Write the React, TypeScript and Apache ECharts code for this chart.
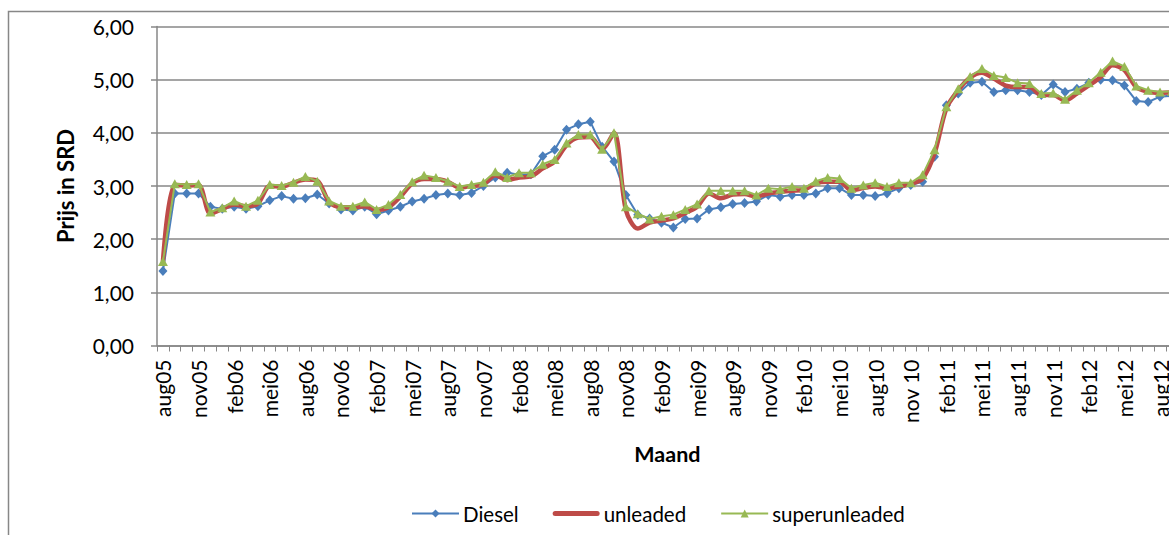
import React, { useEffect, useRef } from "react";
import * as echarts from "echarts";

const categories = [
  "aug05","sep05","okt05","nov05","dec05","jan06","feb06","mrt06","apr06","mei06","jun06","jul06",
  "aug06","sep06","okt06","nov06","dec06","jan07","feb07","mrt07","apr07","mei07","jun07","jul07",
  "aug07","sep07","okt07","nov07","dec07","jan08","feb08","mrt08","apr08","mei08","jun08","jul08",
  "aug08","sep08","okt08","nov08","dec08","jan09","feb09","mrt09","apr09","mei09","jun09","jul09",
  "aug09","sep09","okt09","nov09","dec09","jan10","feb10","mrt10","apr10","mei10","jun10","jul10",
  "aug10","sep10","okt10","nov 10","dec10","jan11","feb11","mrt11","apr11","mei11","jun11","jul11",
  "aug11","sep11","okt11","nov11","dec11","jan12","feb12","mrt12","apr12","mei12","jun12","jul12",
  "aug12","sep12",
];

const diesel = [
  1.40, 2.86, 2.86, 2.86, 2.61, 2.57, 2.61, 2.57, 2.62, 2.73, 2.81, 2.76,
  2.77, 2.84, 2.67, 2.56, 2.54, 2.61, 2.47, 2.54, 2.61, 2.71, 2.76, 2.83,
  2.86, 2.83, 2.87, 3.00, 3.16, 3.25, 3.21, 3.22, 3.56, 3.68, 4.06, 4.16,
  4.21, 3.74, 3.46, 2.83, 2.46, 2.39, 2.31, 2.22, 2.38, 2.39, 2.56, 2.60,
  2.66, 2.68, 2.71, 2.83, 2.80, 2.83, 2.83, 2.86, 2.96, 2.96, 2.83, 2.83,
  2.81, 2.86, 2.96, 3.02, 3.08, 3.55, 4.52, 4.74, 4.94, 4.96, 4.77, 4.80,
  4.80, 4.77, 4.71, 4.91, 4.77, 4.83, 4.94, 5.00, 4.99, 4.89, 4.60, 4.58,
  4.68, 4.70,
];

const unleaded = [
  1.58, 3.02, 3.01, 3.02, 2.48, 2.57, 2.65, 2.62, 2.67, 3.00, 2.99, 3.06,
  3.12, 3.10, 2.70, 2.60, 2.60, 2.62, 2.55, 2.60, 2.80, 3.05, 3.13, 3.13,
  3.08, 2.97, 3.00, 3.03, 3.20, 3.11, 3.16, 3.18, 3.33, 3.46, 3.77, 3.91,
  3.92, 3.69, 4.00, 2.55, 2.20, 2.31, 2.35, 2.39, 2.49, 2.61, 2.86, 2.77,
  2.84, 2.85, 2.80, 2.86, 2.89, 2.91, 2.93, 3.05, 3.08, 3.08, 2.92, 2.96,
  2.99, 2.96, 2.99, 3.04, 3.14, 3.61, 4.46, 4.80, 5.04, 5.13, 5.02, 4.89,
  4.86, 4.86, 4.71, 4.71, 4.61, 4.74, 4.89, 5.05, 5.27, 5.18, 4.86, 4.77,
  4.75, 4.76,
];

const superunleaded = [
  1.58, 3.04, 3.03, 3.04, 2.51, 2.59, 2.72, 2.62, 2.73, 3.03, 3.01, 3.07,
  3.18, 3.09, 2.72, 2.62, 2.62, 2.70, 2.56, 2.65, 2.84, 3.08, 3.20, 3.16,
  3.09, 2.99, 3.03, 3.07, 3.27, 3.16, 3.25, 3.25, 3.41, 3.50, 3.81, 3.97,
  3.97, 3.69, 4.00, 2.61, 2.48, 2.38, 2.43, 2.46, 2.56, 2.66, 2.91, 2.91,
  2.91, 2.91, 2.83, 2.96, 2.94, 2.99, 2.96, 3.09, 3.16, 3.14, 2.96, 3.02,
  3.06, 2.99, 3.06, 3.06, 3.21, 3.68, 4.49, 4.83, 5.06, 5.21, 5.08, 5.04,
  4.94, 4.93, 4.74, 4.75, 4.63, 4.80, 4.94, 5.14, 5.35, 5.25, 4.88, 4.80,
  4.77, 4.78,
];

const seriesNames = ["Diesel", "unleaded", "superunleaded"];
const yTicks = { min: 0, max: 6, interval: 1 };

const FONT = "Lato, 'Open Sans', sans-serif";
const GRAY = "#878787";
const BLUE = "#4A7EBB";
const RED = "#BE4B48";
const GREEN = "#98B954";

export default function App() {
  const ref = useRef<HTMLDivElement>(null);
  useEffect(() => {
    if (!ref.current) return;
    const chart = echarts.init(ref.current, undefined, { renderer: "svg" });
    const catW = 11.87;
    chart.setOption({
      animation: false,
      backgroundColor: "#fff",
      textStyle: { fontFamily: FONT },
      graphic: [
        {
          type: "rect",
          shape: { x: 8.5, y: 11.5, width: 2000, height: 1000 },
          style: { fill: "none", stroke: GRAY, lineWidth: 1.5 },
          silent: true,
        },
      ],
      grid: {
        left: 157,
        top: 26.5,
        width: catW * categories.length,
        height: 319,
        containLabel: false,
      },
      legend: {
        data: [
          { name: seriesNames[0] },
          { name: seriesNames[1], icon: "path://M2,0 L44,0 A2.5,2.5 0 0 1 44,5 L2,5 A2.5,2.5 0 0 1 2,0 Z" },
          { name: seriesNames[2] },
        ],
        left: 406,
        top: 498,
        itemWidth: 47,
        itemHeight: 10,
        itemGap: 34,
        textStyle: { fontSize: 20.5, color: "#000", fontFamily: FONT, padding: [0, 0, 0, -1] },
      },
      xAxis: {
        type: "category",
        data: categories,
        boundaryGap: true,
        axisLine: { lineStyle: { color: GRAY, width: 1.5 } },
        axisTick: { show: true, interval: 0, length: 6, lineStyle: { color: GRAY, width: 1 } },
        axisLabel: {
          interval: 2,
          rotate: 90,
          fontSize: 21,
          color: "#000",
          margin: 14,
          fontFamily: FONT,
        },
        name: "Maand",
        nameLocation: "middle",
        nameGap: 97,
        nameTextStyle: { fontSize: 21.5, fontWeight: "bold", color: "#000", fontFamily: FONT },
        splitLine: { show: false },
      },
      yAxis: {
        type: "value",
        min: yTicks.min,
        max: yTicks.max,
        interval: yTicks.interval,
        axisLine: { show: true, lineStyle: { color: GRAY, width: 1.5 } },
        axisTick: { show: true, length: 6, lineStyle: { color: GRAY, width: 1.5 } },
        axisLabel: {
          fontSize: 21,
          color: "#000",
          margin: 23,
          fontFamily: FONT,
          formatter: (v: number) => v.toFixed(2).replace(".", ","),
        },
        splitLine: { lineStyle: { color: GRAY, width: 1.5 } },
        name: "Prijs in SRD",
        nameLocation: "middle",
        nameGap: 81,
        nameRotate: 90,
        nameTextStyle: { fontSize: 22, fontWeight: "bold", color: "#000", fontFamily: FONT },
      },
      series: [
        {
          name: seriesNames[0],
          type: "line",
          data: diesel,
          symbol: "diamond",
          symbolSize: [9, 10],
          showAllSymbol: true,
          lineStyle: { color: BLUE, width: 2 },
          itemStyle: { color: BLUE },
          z: 2,
        },
        {
          name: seriesNames[1],
          type: "line",
          data: unleaded,
          symbol: "none",
          smooth: 0.3,
          lineStyle: { color: RED, width: 4.5 },
          itemStyle: { color: RED },
          z: 3,
        },
        {
          name: seriesNames[2],
          type: "line",
          data: superunleaded,
          symbol: "triangle",
          symbolSize: [10, 9],
          showAllSymbol: true,
          lineStyle: { color: GREEN, width: 2 },
          itemStyle: { color: GREEN },
          z: 4,
        },
      ],
    });
    return () => chart.dispose();
  }, []);
  return (
    <div
      style={{
        position: "fixed",
        left: 0,
        top: 0,
        width: 1169,
        height: 535,
        overflow: "hidden",
        background: "#fff",
      }}
    >
      <div ref={ref} style={{ width: 1300, height: 535 }} />
    </div>
  );
}
